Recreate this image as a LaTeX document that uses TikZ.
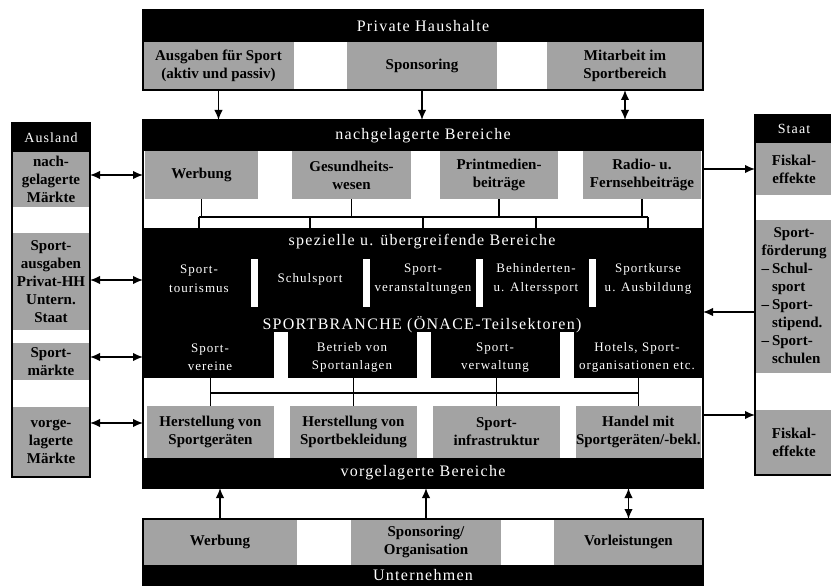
\documentclass[tikz,border=0pt]{standalone}
\usepackage{fontspec}
\setmainfont{Liberation Serif}
\newfontfamily\hfont[LetterSpace=8]{Liberation Serif}
\usetikzlibrary{arrows.meta,calc}
\definecolor{boxgray}{gray}{0.64}
\tikzset{
  every node/.style={inner sep=0pt, outer sep=0pt},
  gbox/.style={fill=boxgray, anchor=north west, align=center, font=\fontsize{15}{18}\selectfont\bfseries},
  bbar/.style={fill=black, text=white, anchor=north west, align=center, font=\hfont\fontsize{16}{19}\selectfont},
  sbar/.style={bbar, font=\hfont\fontsize{14}{17}\selectfont},
  wcell/.style={text=white, align=center, font=\hfont\fontsize{13}{18.5}\selectfont},
  whitebar/.style={fill=white, anchor=north west},
  blackarea/.style={fill=black, anchor=north west},
  conn/.style={line width=1.2pt},
  frameline/.style={line width=#1},
  arr/.style={line width=1.5pt, -{Latex[length=10pt,width=8.5pt]}},
  darr/.style={line width=1.5pt, {Latex[length=10pt,width=8.5pt]}-{Latex[length=10pt,width=8.5pt]}},
}
\newcommand\bx[7]{\node[#1, minimum width={#5-#3}, minimum height={#6-#4}] (#2) at (#3,#4) {#7};}
\begin{document}
\begin{tikzpicture}[x=1pt,y=-1pt]
\useasboundingbox (0,0) rectangle (831,586);
% ---------- Private Haushalte ----------
\bx{bbar}{ph}{143}{10}{703}{42}{Private Haushalte}
\bx{gbox}{ph1}{143}{42}{294}{90}{Ausgaben für Sport\\(aktiv und passiv)}
\bx{gbox}{ph2}{347}{42}{497}{90}{Sponsoring}
\bx{gbox}{ph3}{547}{42}{703}{90}{Mitarbeit im\\Sportbereich}
\draw[frameline=1.2pt] (ph.north west) rectangle (ph3.south east);
% ---------- main block ----------
\bx{bbar}{nb}{143}{120}{703}{151}{nachgelagerte Bereiche}
\bx{gbox}{nb1}{145}{151}{258}{199}{Werbung}
\bx{gbox}{nb2}{292}{151}{411}{199}{Gesundheits-\\wesen}
\bx{gbox}{nb3}{440}{151}{558}{199}{Printmedien-\\beiträge}
\bx{gbox}{nb4}{583}{151}{701}{199}{Radio- u.\\Fernsehbeiträge}
\bx{blackarea}{sp}{143}{228}{703}{378}{}
\bx{whitebar}{wb1}{251}{259}{258}{307}{}
\bx{whitebar}{wb2}{363}{259}{370}{307}{}
\bx{whitebar}{wb3}{476}{259}{483}{307}{}
\bx{whitebar}{wb4}{589}{259}{596}{307}{}
\bx{whitebar}{wg1}{274}{332}{288}{378}{}
\bx{whitebar}{wg2}{417}{332}{431}{378}{}
\bx{whitebar}{wg3}{560}{332}{574}{378}{}
\node[wcell, font=\hfont\fontsize{16}{19}\selectfont] (sptitle) at (422,242) {spezielle u. übergreifende Bereiche};
\node[wcell] (c1) at (199,279) {Sport-\\tourismus};
\node[wcell] (c2) at (310,279) {Schulsport};
\node[wcell] (c3) at (423,279) {Sport-\\veranstaltungen};
\node[wcell] (c4) at (536,279) {Behinderten-\\u. Alterssport};
\node[wcell] (c5) at (648,279) {Sportkurse\\u. Ausbildung};
\node[wcell, font=\hfont\fontsize{16}{19}\selectfont] (branche) at (422,325) {SPORTBRANCHE (ÖNACE-Teilsektoren)};
\node[wcell] (d1) at (210,357.5) {Sport-\\vereine};
\node[wcell] (d2) at (352,357.5) {Betrieb von\\Sportanlagen};
\node[wcell] (d3) at (495,357.5) {Sport-\\verwaltung};
\node[wcell] (d4) at (637,357.5) {Hotels, Sport-\\organisationen etc.};
\bx{gbox}{vb1}{147}{406}{274}{458}{Herstellung von\\Sportgeräten}
\bx{gbox}{vb2}{290}{406}{417}{458}{Herstellung von\\Sportbekleidung}
\bx{gbox}{vb3}{433}{406}{560}{458}{Sport-\\infrastruktur}
\bx{gbox}{vb4}{576}{406}{700}{458}{Handel mit\\Sportgeräten/-bekl.}
\bx{bbar}{vg}{143}{458}{703}{488}{vorgelagerte Bereiche}
\draw[frameline=2.5pt] (nb.north west) rectangle (vg.south east);
% connectors inside main block
\coordinate (hubN) at (0,217);
\coordinate (hubS) at (0,393);
\foreach \n in {nb1,nb2,nb3,nb4} \draw[conn] (\n.south) -- (\n.south |- hubN);
\draw[conn] (c1 |- hubN) -- (c5 |- hubN);
\foreach \n in {c1,c2,c3,c4,c5} \draw[conn] (\n |- hubN) -- (\n |- sp.north);
\foreach \n in {vb1,vb2,vb3,vb4} \draw[conn] (\n.north) -- (\n.north |- sp.south);
\draw[conn] (vb1.north |- hubS) -- (vb4.north |- hubS);
% arrows from Private Haushalte
\draw[arr] (ph1.south) -- (ph1.south |- nb.north);
\draw[arr] (ph2.south) -- (ph2.south |- nb.north);
\draw[darr] (ph3.south) -- (ph3.south |- nb.north);
% ---------- Unternehmen ----------
\bx{gbox}{ub1}{143}{519}{297}{565}{Werbung}
\bx{gbox}{ub2}{351}{519}{501}{565}{Sponsoring/\\Organisation}
\bx{gbox}{ub3}{554}{519}{703}{565}{Vorleistungen}
\bx{bbar}{un}{143}{565}{703}{586}{Unternehmen}
\draw[frameline=1.2pt] (ub1.north west) rectangle (un.south east);
\draw[arr] (ub1.north) -- (ub1.north |- vg.south);
\draw[arr] (ub2.north) -- (ub2.north |- vg.south);
\draw[darr] (ub3.north) -- (ub3.north |- vg.south);
% ---------- Ausland ----------
\bx{sbar}{ah}{12}{123}{90}{152}{Ausland}
\bx{gbox}{a1}{12}{152}{90}{207}{nach-\\gelagerte\\Märkte}
\bx{gbox}{a2}{12}{233}{90}{330}{Sport-\\ausgaben\\Privat-HH\\Untern.\\Staat}
\bx{gbox}{a3}{12}{343}{90}{380}{Sport-\\märkte}
\bx{gbox}{a4}{12}{407}{90}{477}{vorge-\\lagerte\\Märkte}
\draw[frameline=1.5pt] (ah.north west) rectangle (a4.south east);
\coordinate (la1) at ($(a1.east)+(0,-4.5)$);
\coordinate (la2) at ($(a2.east)+(0,-1.5)$);
\coordinate (la3) at ($(a3.east)+(0,-4.5)$);
\coordinate (la4) at ($(a4.east)+(0,-19)$);
\foreach \c in {la1,la2,la3,la4} \draw[darr] (\c) -- (\c -| nb.west);
% ---------- Staat ----------
\bx{sbar}{sh}{755}{115}{833}{143}{Staat}
\bx{gbox}{s1}{755}{143}{833}{195}{Fiskal-\\effekte}
\bx{gbox}{s2}{755}{220}{833}{373}{\begin{tabular}{@{}l@{\hspace{3pt}}l@{}}\multicolumn{2}{@{}c@{}}{Sport-}\\ \multicolumn{2}{@{}c@{}}{förderung}\\ – & Schul-\\ & sport\\ – & Sport-\\ & stipend.\\ – & Sport-\\ & schulen\end{tabular}}
\bx{gbox}{s3}{755}{410}{833}{475}{Fiskal-\\effekte}
\draw[frameline=1.5pt] (sh.north west) rectangle (s3.south east);
\coordinate (rs2) at ($(s2.west)+(0,15.5)$);
\coordinate (rs3) at ($(s3.west)+(0,-27.5)$);
\draw[arr] (s1.west -| nb.east) -- (s1.west);
\draw[arr] (rs2) -- (rs2 -| nb.east);
\draw[arr] (rs3 -| nb.east) -- (rs3);
\end{tikzpicture}
\end{document}
